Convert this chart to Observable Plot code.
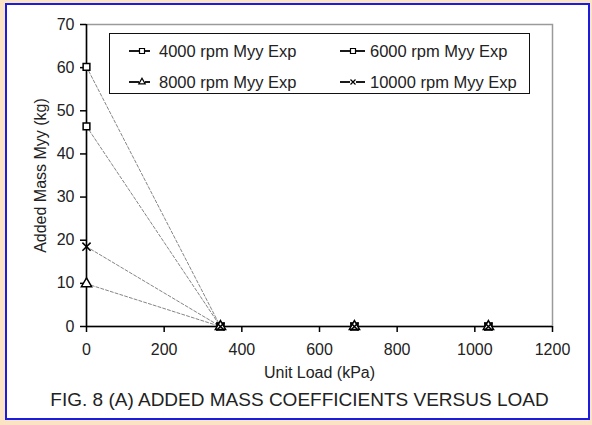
<!DOCTYPE html>
<html>
<head>
<meta charset="utf-8">
<script src="https://cdn.jsdelivr.net/npm/d3@7"></script>
<script src="https://cdn.jsdelivr.net/npm/@observablehq/plot@0.6"></script>
<style>
html, body { margin: 0; padding: 0; }
body { width: 592px; height: 425px; background: #fbe4c4; position: relative; overflow: hidden;
  font-family: "Liberation Sans", Arial, sans-serif; color: #222; }
#card { position: absolute; left: 5px; top: 3px; width: 581px; height: 413px;
  border: 2px solid #1c1ce0; background: #fff; }
#chart { position: absolute; left: 0; top: 0; }
#legend { position: absolute; left: 102px; top: 28px; width: 419px; height: 59px;
  border: 1.5px solid #111; background: #fff; }
.item { position: absolute; height: 20px; font-size: 16.5px; line-height: 20px; white-space: nowrap; }
.item svg { position: absolute; left: 0; top: 0; }
.item span { position: absolute; top: 0; }
#caption { position: absolute; left: 4px; width: 577px; top: 385px; line-height: 20px;
  font-size: 19px; text-align: center; color: #222; }
</style>
</head>
<body>
<div id="card">
  <div id="chart"></div>
  <div id="legend"></div>
  <div id="caption"></div>
</div>
<script>
// ---- data ----
const loads = [0, 345, 690, 1035];
const myy4000 = [60.2, 0, 0, 0];
const myy6000 = [46.4, 0, 0, 0];
const myy8000 = [9.9, 0, 0, 0];
const myy10000 = [18.5, 0, 0, 0];
const seriesNames = ["4000 rpm Myy Exp", "6000 rpm Myy Exp", "8000 rpm Myy Exp", "10000 rpm Myy Exp"];
const xTicks = [0, 200, 400, 600, 800, 1000, 1200];
const yTicks = [0, 10, 20, 30, 40, 50, 60, 70];
const xLabel = "Unit Load (kPa)";
const yLabel = "Added Mass Myy (kg)";
const captionText = "FIG. 8 (A) ADDED MASS COEFFICIENTS VERSUS LOAD";

const seriesValues = [myy4000, myy6000, myy8000, myy10000];
const rows = [];
seriesNames.forEach((s, i) => loads.forEach((l, j) => rows.push({series: s, load: l, myy: seriesValues[i][j]})));
const symbols = ["square", "square", "triangle", "times"];

const chart = Plot.plot({
  width: 581, height: 380,
  marginLeft: 79, marginRight: 36, marginTop: 19, marginBottom: 59,
  style: {fontFamily: "Liberation Sans, Arial, sans-serif", fontSize: "16px", color: "#222", background: "transparent"},
  x: {domain: [0, 1200]},
  y: {domain: [0, 70]},
  symbol: {domain: seriesNames, range: symbols},
  marks: [
    Plot.frame({stroke: "#9a9a9a", strokeWidth: 1.5}),
    Plot.line(rows, {x: "load", y: "myy", z: "series", stroke: "#858585", strokeWidth: 1, strokeDasharray: "3,2"}),
    Plot.ruleX([0], {stroke: "#000", strokeWidth: 1.5}),
    Plot.ruleY([0], {stroke: "#000", strokeWidth: 1.5}),
    Plot.axisX({ticks: xTicks, tickFormat: d => String(d), tickSize: 6, tickPadding: 11, stroke: "#000", strokeWidth: 1.5, label: null, fill: "#222", fontSize: 16}),
    Plot.axisY({ticks: yTicks, tickFormat: d => String(d), tickSize: 6, tickPadding: 6, stroke: "#000", strokeWidth: 1.5, label: null, fill: "#222", fontSize: 16}),
    Plot.dot(rows, {x: "load", y: "myy", symbol: "series", r: 3.8, stroke: "#000", fill: "#fff", strokeWidth: 1.5}),
    Plot.text([xLabel], {frameAnchor: "bottom", dy: 46, lineAnchor: "middle", fill: "#222", fontSize: 16}),
    Plot.text([yLabel], {frameAnchor: "left", dx: -46, rotate: -90, lineAnchor: "middle", textAnchor: "middle", fill: "#222", fontSize: 16})
  ]
});
document.getElementById("chart").append(chart);

// ---- legend ----
const legend = document.getElementById("legend");
const pos = [[0, 7], [211, 7], [0, 38], [211, 38]];
seriesNames.forEach((name, i) => {
  const item = document.createElement("div");
  item.className = "item";
  item.style.left = pos[i][0] + "px";
  item.style.top = pos[i][1] + "px";
  item.style.width = "210px";
  const svg = d3.create("svg").attr("width", 48).attr("height", 20);
  const cx = i % 2 === 0 ? 32 : 32, cy = 10;
  svg.append("line").attr("x1", 19).attr("x2", cx - 3).attr("y1", cy).attr("y2", cy).attr("stroke", "#000").attr("stroke-width", 1.8);
  svg.append("line").attr("x1", cx + 3).attr("x2", i % 2 === 0 ? 40 : 44).attr("y1", cy).attr("y2", cy).attr("stroke", "#000").attr("stroke-width", 1.8);
  const sym = {square: d3.symbolSquare, triangle: d3.symbolTriangle, times: d3.symbolTimes}[symbols[i]];
  svg.append("path").attr("d", d3.symbol(sym, symbols[i] === "square" ? 25 : 18)()).attr("transform", `translate(${cx},${cy})`)
    .attr("fill", "#fff").attr("stroke", "#000").attr("stroke-width", 1.2);
  item.append(svg.node());
  const sp = document.createElement("span");
  sp.style.left = "49px";
  sp.textContent = name;
  item.append(sp);
  legend.append(item);
});

document.getElementById("caption").textContent = captionText;
</script>
</body>
</html>
